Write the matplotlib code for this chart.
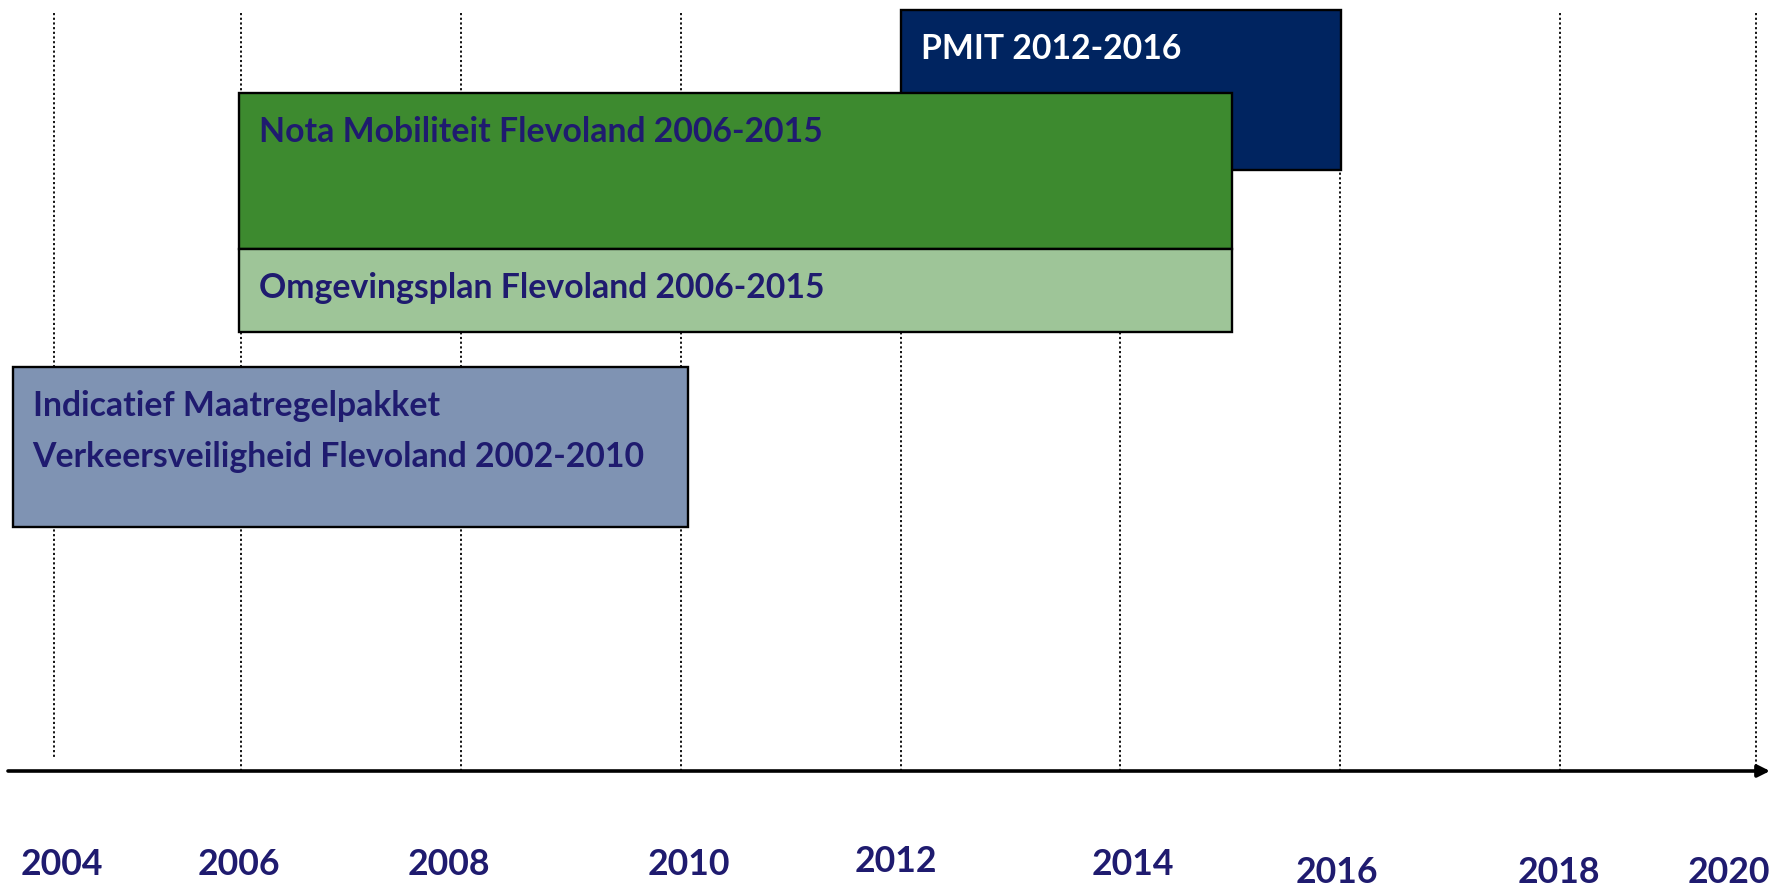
import numpy as np
import matplotlib
matplotlib.use("Agg")
import matplotlib.pyplot as plt
from matplotlib.patches import Rectangle
from matplotlib import transforms

# ---------------- data ----------------
plan_labels = [
    "PMIT 2012-2016",
    "Nota Mobiliteit Flevoland 2006-2015",
    "Omgevingsplan Flevoland 2006-2015",
    "Indicatief Maatregelpakket\nVerkeersveiligheid Flevoland 2002-2010",
]
plan_start = [2012, 2005.98, 2005.98, 2003.55]
plan_end = [2016.01, 2015.02, 2015.02, 2010.06]

tick_years = [2004, 2006, 2008, 2010, 2012, 2014, 2016, 2018, 2020]
tick_labels = [str(y) for y in tick_years]

# ---------------- layout / style ----------------
W, H = 1770, 887
grid_px = [54.5, 241, 461, 681, 900.6, 1120, 1340, 1560, 1755.5]  # hand-drawn axis spacing
box_top = [10.7, 94, 250, 368]
box_bottom = [171, 250, 333, 528]
box_colors = ["#002460", "#3D8A2F", "#9EC598", "#7F93B3"]
text_colors = ["white", "#1F1B6F", "#1F1B6F", "#1F1B6F"]
box_z = [2, 3, 3, 3]
text_baseline_off = 48
line_gap = 51
text_x_off = 20

label_dx = [7, -2, -12, 8, -4.6, 13, -3, -1, -26.5]
label_base = [875, 875, 875, 875, 871.7, 875, 883, 883, 883]
grid_bottom = [759, 772, 772, 772, 772, 772, 772, 772, 772]
grid_top = 14
axis_y = 772

NAVY = "#1F1B6F"
FONT = ["Lato", "Liberation Sans", "DejaVu Sans"]
BOX_TEXT_WIDTH = 564   # reference width of the "Nota ..." label, px
YEAR_TEXT_WIDTH = 83   # reference width of a year label, px

YRS = np.array(tick_years, float)
PX = np.array(grid_px, float)


def _pw(x, xs, ys):
    x = np.asarray(x, float)
    y = np.interp(x, xs, ys)
    s0 = (ys[1] - ys[0]) / (xs[1] - xs[0])
    s1 = (ys[-1] - ys[-2]) / (xs[-1] - xs[-2])
    y = np.where(x < xs[0], ys[0] + (x - xs[0]) * s0, y)
    y = np.where(x > xs[-1], ys[-1] + (x - xs[-1]) * s1, y)
    return y


def fwd(x):
    return _pw(x, YRS, PX)


def inv(p):
    return _pw(p, PX, YRS)


fig = plt.figure(figsize=(W / 100, H / 100), dpi=100)
ax = fig.add_axes([0, 0, 1, 1])
ax.set_xscale("function", functions=(fwd, inv))
ax.set_xlim(float(inv(0)), float(inv(W)))
ax.set_ylim(H, 0)
ax.axis("off")

renderer = fig.canvas.get_renderer()


def fit_size(s, target):
    t = fig.text(0, 0, s, fontsize=20, fontweight="bold", family=FONT)
    w = t.get_window_extent(renderer).width
    t.remove()
    return 20 * target / w


box_fs = fit_size(plan_labels[1], BOX_TEXT_WIDTH)
year_fs = fit_size("2004", YEAR_TEXT_WIDTH)

# dotted grid lines
ax.vlines(tick_years, grid_top, grid_bottom, colors="black",
          linestyles=(0, (1.2, 1.4)), linewidth=1.3, zorder=1)

# axis with arrow
ax.annotate("", xy=(1.0, axis_y), xytext=(8 / W, axis_y),
            xycoords=("axes fraction", "data"), textcoords=("axes fraction", "data"),
            arrowprops=dict(arrowstyle="-|>", lw=2.6, color="black",
                            mutation_scale=18, shrinkA=0, shrinkB=0),
            zorder=4)

# boxes and their labels
for i, lab in enumerate(plan_labels):
    x0, x1 = plan_start[i], plan_end[i]
    rect = Rectangle((x0, box_top[i]), x1 - x0, box_bottom[i] - box_top[i],
                     facecolor=box_colors[i], edgecolor="black", linewidth=1.7,
                     zorder=box_z[i])
    ax.add_patch(rect)
    tr = transforms.offset_copy(ax.transData, fig=fig, x=text_x_off, y=0, units="dots")
    for j, line in enumerate(lab.split("\n")):
        ax.text(x0, box_top[i] + text_baseline_off + j * line_gap, line,
                transform=tr, ha="left", va="baseline", fontsize=box_fs,
                fontweight="bold", color=text_colors[i], family=FONT,
                zorder=box_z[i] + 0.5)

# year labels
for k, (yr, lab) in enumerate(zip(tick_years, tick_labels)):
    tr = transforms.offset_copy(ax.transData, fig=fig, x=label_dx[k], y=0, units="dots")
    ax.text(yr, label_base[k], lab, transform=tr, ha="center", va="baseline",
            fontsize=year_fs, fontweight="bold", color=NAVY, family=FONT)

fig.savefig("out.png", dpi=100)
